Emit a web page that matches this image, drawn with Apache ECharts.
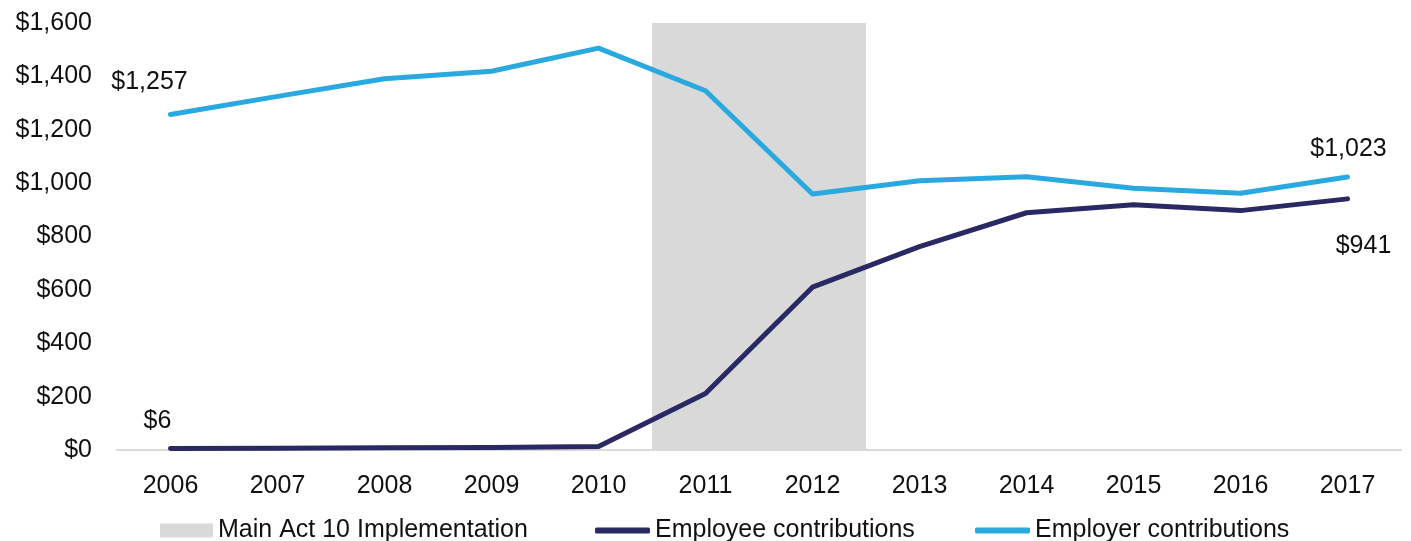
<!DOCTYPE html>
<html>
<head>
<meta charset="utf-8">
<script src="https://cdn.jsdelivr.net/npm/echarts@6/dist/echarts.min.js"></script>
<style>
  html, body { margin: 0; padding: 0; background: #ffffff; }
  #chart { width: 1411px; height: 541px; }
</style>
</head>
<body>
<div id="chart"></div>
<script>
// Contribution data, 2006–2017 (dollars)
const years = ['2006','2007','2008','2009','2010','2011','2012','2013','2014','2015','2016','2017'];
const employeeContrib = [6, 7, 8, 9, 13, 212, 610, 762, 889, 919, 897, 941];
const employerContrib = [1257, 1325, 1391, 1419, 1506, 1346, 959, 1009, 1024, 981, 962, 1023];
// Implementation period shading (years covered get the full axis height)
const implementation = [null, null, null, null, null, 1600, 1600, null, null, null, null, null];
const yTicks = [0, 200, 400, 600, 800, 1000, 1200, 1400, 1600];

const FONT = '"Liberation Sans", Arial, sans-serif';
const FS = 25;
const TEXT = '#111111';
const EMPLOYEE = '#2B2963';
const EMPLOYER = '#29A9E0';
const SHADE = '#D9D9D9';

const money = v => '$' + Number(v).toLocaleString('en-US');

// Attach a visible value label to selected points only
function labelled(values, labels) {
  return values.map((v, i) => labels[i]
    ? { value: v, label: Object.assign({ show: true }, labels[i]) }
    : v);
}

const chart = echarts.init(document.getElementById('chart'), null, { renderer: 'canvas' });

const legendText = { fontFamily: FONT, fontSize: FS, color: TEXT };
const legendBase = { top: 518, padding: 0, itemGap: 0, textStyle: legendText };

chart.setOption({
  animation: false,
  grid: { left: 117, right: 10, top: 23, bottom: 91, containLabel: false },
  xAxis: {
    type: 'category',
    data: years,
    boundaryGap: true,
    axisLine: { lineStyle: { color: SHADE, width: 2 } },
    axisTick: { show: false },
    axisLabel: { fontFamily: FONT, fontSize: FS, color: TEXT, margin: 24 }
  },
  yAxis: {
    type: 'value',
    min: yTicks[0],
    max: yTicks[yTicks.length - 1],
    interval: 200,
    axisLine: { show: false },
    axisTick: { show: false },
    splitLine: { show: false },
    axisLabel: { fontFamily: FONT, fontSize: FS, color: TEXT, margin: 25, formatter: money }
  },
  legend: [
    Object.assign({ left: 160, itemWidth: 53, itemHeight: 14,
      data: [{ name: 'Main Act 10 Implementation', icon: 'rect' }] }, legendBase),
    Object.assign({ left: 595, itemWidth: 55, itemHeight: 6,
      data: [{ name: 'Employee contributions', icon: 'roundRect' }] }, legendBase),
    Object.assign({ left: 975, itemWidth: 55, itemHeight: 6,
      data: [{ name: 'Employer contributions', icon: 'roundRect' }] }, legendBase)
  ],
  series: [
    {
      name: 'Main Act 10 Implementation',
      type: 'bar',
      data: implementation,
      barCategoryGap: '0%',
      barGap: '0%',
      itemStyle: { color: SHADE },
      z: 1,
      silent: true
    },
    {
      name: 'Employee contributions',
      type: 'line',
      data: labelled(employeeContrib, {
        0: { position: 'top', offset: [-13, -9] },
        11: { position: 'bottom', offset: [16, 29] }
      }),
      symbol: 'circle',
      symbolSize: 1,
      lineStyle: { color: EMPLOYEE, width: 5, cap: 'round', join: 'round' },
      itemStyle: { color: EMPLOYEE },
      label: { fontFamily: FONT, fontSize: FS, color: TEXT, formatter: p => money(p.value) },
      z: 3
    },
    {
      name: 'Employer contributions',
      type: 'line',
      data: labelled(employerContrib, {
        0: { position: 'top', offset: [-21, -14] },
        11: { position: 'top', offset: [1, -10] }
      }),
      symbol: 'circle',
      symbolSize: 1,
      lineStyle: { color: EMPLOYER, width: 5, cap: 'round', join: 'round' },
      itemStyle: { color: EMPLOYER },
      label: { fontFamily: FONT, fontSize: FS, color: TEXT, formatter: p => money(p.value) },
      z: 3
    }
  ]
});
</script>
</body>
</html>
